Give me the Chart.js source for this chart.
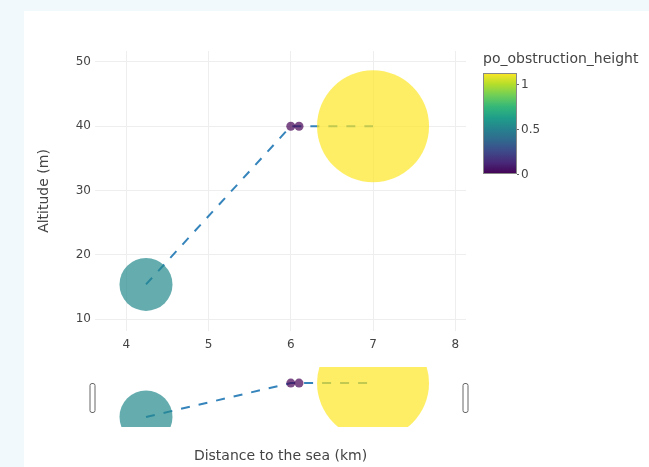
<!DOCTYPE html>
<html>
<head>
<meta charset="utf-8">
<script src="https://cdn.jsdelivr.net/npm/chart.js@4/dist/chart.umd.min.js"></script>
<style>
    body { margin: 0; background: #f2f9fd; width: 649px; height: 467px; overflow: hidden; position: relative; }
    .panel { position: absolute; left: 24px; top: 11px; right: 0; bottom: 0; background: #ffffff; }
    canvas { position: absolute; left: 0; }
    #mainChart { top: 0; }
    #sliderChart { top: 360px; }
</style>
</head>
<body>
<div class="panel"></div>
<canvas id="mainChart" width="649" height="360"></canvas>
<canvas id="sliderChart" width="649" height="107"></canvas>
<script>
// data
const distanceKm = [4.24, 6.0, 6.1, 7.0];
const altitudeM = [15.4, 40, 40, 40];
const obstructionHeight = [0.53, 0, 0, 1.12];

const xTicks = [4, 5, 6, 7, 8];
const yTicks = [10, 20, 30, 40, 50];
const colorbarTicks = [0, 0.5, 1];

const X_MIN = 3.62, X_MAX = 8.13;
const Y_MIN = 8.15, Y_MAX = 51.7;
const C_MAX = 1.12;

// plotly viridis
const viridis = ['#440154', '#482878', '#3e4989', '#31688e', '#26828e',
                 '#1f9e89', '#35b779', '#6ece58', '#b5de2b', '#fde725'];

function hexToRgb(h) {
    return [parseInt(h.slice(1, 3), 16), parseInt(h.slice(3, 5), 16), parseInt(h.slice(5, 7), 16)];
}

function viridisAt(t, alpha) {
    t = Math.min(1, Math.max(0, t));
    const pos = t * (viridis.length - 1);
    const i = Math.min(viridis.length - 2, Math.floor(pos));
    const f = pos - i;
    const a = hexToRgb(viridis[i]), b = hexToRgb(viridis[i + 1]);
    const c = a.map((v, k) => Math.round(v + (b[k] - v) * f));
    return `rgba(${c[0]}, ${c[1]}, ${c[2]}, ${alpha})`;
}

const FONT = '"DejaVu Sans", Verdana, sans-serif';
Chart.defaults.font.family = FONT;
Chart.defaults.font.size = 12;
Chart.defaults.color = '#444';

const lineColor = 'rgba(31, 119, 180, 0.9)';

function buildDatasets() {
    return [
        {
            type: 'bubble',
            data: distanceKm.map((x, i) => ({ x: x, y: altitudeM[i], r: Math.max(4.5, obstructionHeight[i] * 50) })),
            backgroundColor: obstructionHeight.map(v => viridisAt(v / C_MAX, 0.7)),
            borderWidth: 0,
            hoverBorderWidth: 0,
            clip: 0,
            order: 1
        },
        {
            type: 'line',
            data: distanceKm.map((x, i) => ({ x: x, y: altitudeM[i] })),
            borderColor: lineColor,
            borderWidth: 2,
            borderDash: [9, 9],
            pointRadius: 0,
            fill: false,
            tension: 0,
            clip: 0,
            order: 2
        }
    ];
}

const colorbarPlugin = {
    id: 'colorbar',
    afterDraw: function (chart) {
        const ctx = chart.ctx;
        const left = 483, right = 517, top = 73, bottom = 174;
        const grad = ctx.createLinearGradient(0, bottom, 0, top);
        viridis.forEach((c, i) => grad.addColorStop(i / (viridis.length - 1), c));
        ctx.save();
        ctx.fillStyle = grad;
        ctx.fillRect(left, top, right - left, bottom - top);
        ctx.strokeStyle = '#888';
        ctx.lineWidth = 1;
        ctx.strokeRect(left + 0.5, top + 0.5, right - left - 1, bottom - top - 1);

        ctx.fillStyle = '#444';
        ctx.font = '12px ' + FONT;
        ctx.textBaseline = 'middle';
        colorbarTicks.forEach(v => {
            const y = Math.round(bottom - (v / C_MAX) * (bottom - top)) + 0.5;
            ctx.beginPath();
            ctx.moveTo(right, y);
            ctx.lineTo(right + 2, y);
            ctx.strokeStyle = '#666';
            ctx.stroke();
            ctx.fillText(String(v), right + 4, y);
        });

        ctx.font = '14px ' + FONT;
        ctx.fillText('po_obstruction_height', left, 59);
        ctx.restore();
    }
};

const grabberPlugin = {
    id: 'grabbers',
    afterDraw: function (chart) {
        const ctx = chart.ctx;
        const a = chart.chartArea;
        const mid = (a.top + a.bottom) / 2;
        ctx.save();
        ctx.fillStyle = '#ffffff';
        ctx.strokeStyle = '#666';
        ctx.lineWidth = 1;
        [a.left - 3, a.right - 1].forEach(cx => {
            ctx.beginPath();
            ctx.roundRect(cx - 2.5 + 0.5, mid - 14 + 0.5, 5, 29, 2);
            ctx.fill();
            ctx.stroke();
        });
        ctx.restore();
    }
};

new Chart(document.getElementById('mainChart'), {
    data: { datasets: buildDatasets() },
    options: {
        responsive: false,
        animation: false,
        layout: { autoPadding: false, padding: { left: 0, top: 51, right: 183, bottom: 0 } },
        plugins: { legend: { display: false }, tooltip: { enabled: false } },
        scales: {
            x: {
                type: 'linear',
                min: X_MIN,
                max: X_MAX,
                afterBuildTicks: s => { s.ticks = xTicks.map(v => ({ value: v })); },
                afterFit: s => { s.height = 29; },
                grid: { color: '#eeeeee', drawTicks: false },
                border: { display: false },
                ticks: { padding: 7, font: { size: 12 } }
            },
            y: {
                type: 'linear',
                min: Y_MIN,
                max: Y_MAX,
                afterBuildTicks: s => { s.ticks = yTicks.map(v => ({ value: v })); },
                afterFit: s => { s.width = 95; },
                grid: { color: '#eeeeee', drawTicks: false },
                border: { display: false },
                ticks: { padding: 4, font: { size: 12 } },
                title: {
                    display: true,
                    text: 'Altitude (m)',
                    font: { size: 14 },
                    padding: { top: 36, bottom: 0 }
                }
            }
        }
    },
    plugins: [colorbarPlugin]
});

new Chart(document.getElementById('sliderChart'), {
    data: { datasets: buildDatasets() },
    options: {
        responsive: false,
        animation: false,
        layout: { autoPadding: false, padding: { left: 95, top: 7, right: 183, bottom: 0 } },
        plugins: { legend: { display: false }, tooltip: { enabled: false } },
        scales: {
            x: {
                type: 'linear',
                min: X_MIN,
                max: X_MAX,
                afterFit: s => { s.height = 40; },
                grid: { display: false },
                border: { display: false },
                ticks: { display: false },
                title: {
                    display: true,
                    text: 'Distance to the sea (km)',
                    font: { size: 14 },
                    padding: { top: 0, bottom: 2 }
                }
            },
            y: {
                type: 'linear',
                display: false,
                min: Y_MIN,
                max: Y_MAX
            }
        }
    },
    plugins: [grabberPlugin]
});
</script>
</body>
</html>
